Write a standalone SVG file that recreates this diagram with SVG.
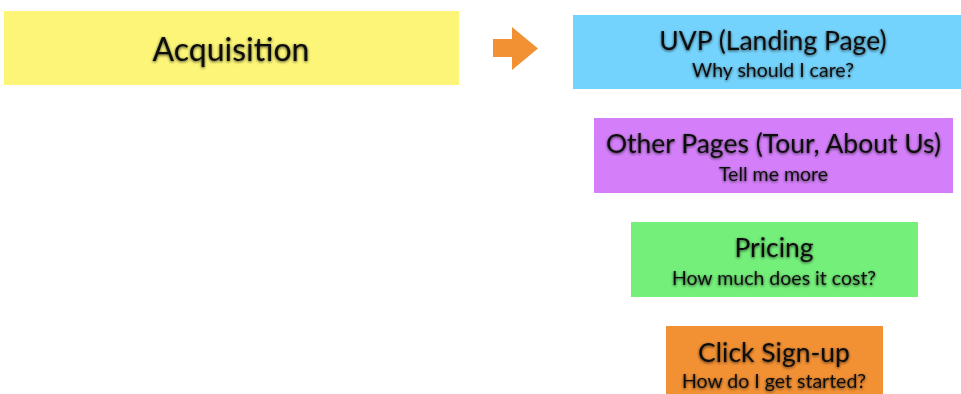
<svg xmlns="http://www.w3.org/2000/svg" width="961" height="394" viewBox="0 0 961 394">
  <defs>
    <!-- soft dark halo behind labels -->
    <filter id="glow" x="-10%" y="-30%" width="120%" height="160%">
      <feGaussianBlur in="SourceAlpha" stdDeviation="1.6" result="b"/>
      <feOffset in="b" dx="0" dy="1" result="o"/>
      <feComponentTransfer in="o" result="s">
        <feFuncA type="linear" slope="0.7"/>
      </feComponentTransfer>
      <feMerge>
        <feMergeNode in="s"/>
        <feMergeNode in="SourceGraphic"/>
      </feMerge>
    </filter>
  </defs>
  <style>
    text { font-family: "Lato", "Open Sans", "Liberation Sans", sans-serif; fill: #111; text-anchor: middle; filter: url(#glow); }
    .big { font-size: 32px; }
    .title { font-size: 26.5px; }
    .sub { font-size: 19.5px; }
  </style>
  <rect width="961" height="394" fill="#ffffff"/>

  <g id="acquisition">
    <rect x="4" y="11" width="455" height="74" fill="#fcf577"/>
    <text class="big" x="231" y="61">Acquisition</text>
  </g>

  <g id="connectors">
    <polygon points="493,39 512,39 512,27 538,48.5 512,70 512,57 493,57" fill="#f29034"/>
  </g>

  <g id="uvp">
    <rect x="573" y="15" width="400" height="74" fill="#74d3fc"/>
    <text class="title" x="773" y="50">UVP (Landing Page)</text>
    <text class="sub" x="773" y="77">Why should I care?</text>
  </g>

  <g id="other-pages">
    <rect x="594" y="118" width="359" height="75" fill="#d47ff9"/>
    <text class="title" x="773.5" y="153">Other Pages (Tour, About Us)</text>
    <text class="sub" x="773.5" y="181">Tell me more</text>
  </g>

  <g id="pricing">
    <rect x="631" y="222" width="287" height="75" fill="#74ef7a"/>
    <text class="title" x="774" y="257">Pricing</text>
    <text class="sub" x="774" y="285">How much does it cost?</text>
  </g>

  <g id="signup">
    <rect x="666" y="326" width="217" height="80" fill="#f29034"/>
    <text class="title" x="774" y="362">Click Sign-up</text>
    <text class="sub" x="774" y="388">How do I get started?</text>
  </g>
</svg>
